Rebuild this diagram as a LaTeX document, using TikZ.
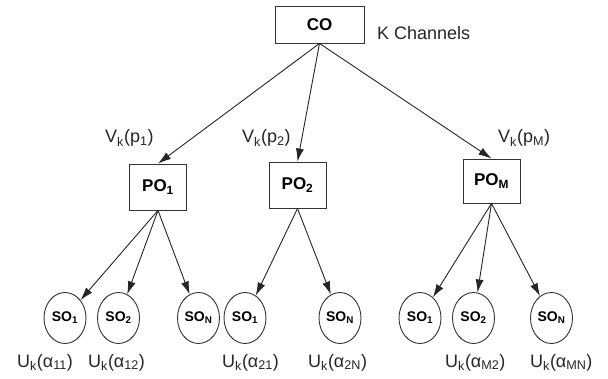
\documentclass[tikz,border=0pt]{standalone}
\usepackage{fontspec}
\setmainfont{Liberation Sans}
\usetikzlibrary{shapes.geometric,arrows.meta}
\begin{document}
\begin{tikzpicture}[x=1pt,y=-1pt,
  boxnode/.style={draw=black!80, line width=0.9pt, inner sep=0pt, font=\fontsize{17}{19}\selectfont\bfseries},
  sonode/.style={draw=black!80, ellipse, line width=0.9pt, minimum width=42pt, minimum height=51pt, inner sep=0pt, font=\fontsize{14}{16}\selectfont\bfseries},
  lbl/.style={font=\fontsize{18}{21}\selectfont, inner sep=0pt, text=black!85, anchor=base west},
  arr/.style={draw=black!85, line width=0.9pt, -{Latex[length=13pt,width=8pt]}}
]
\useasboundingbox (0,0) rectangle (608,379);
\fill[white] (0,0) rectangle (608,379);
\node[boxnode, minimum width=89pt, minimum height=37pt] (CO) at (319.5,24.5) {CO};
\node[lbl] (kc) at (377,40) {K Channels};

\node[boxnode, minimum width=57pt, minimum height=46pt] (PO1) at (158,187) {PO\textsubscript{1}};
\node[boxnode, minimum width=57pt, minimum height=46pt] (PO2) at (297.5,185) {PO\textsubscript{2}};
\node[boxnode, minimum width=57pt, minimum height=44pt] (POM) at (491.5,181) {PO\textsubscript{M}};

\node[lbl] (v1) at (105,143) {V\textsubscript{k}(p\textsubscript{1})};
\node[lbl] (v2) at (242,143) {V\textsubscript{k}(p\textsubscript{2})};
\node[lbl] (vM) at (498,143) {V\textsubscript{k}(p\textsubscript{M})};

\node[sonode] (s11) at (65,318) {SO\textsubscript{1}};
\node[sonode] (s12) at (118.5,318) {SO\textsubscript{2}};
\node[sonode] (s1N) at (198.5,318) {SO\textsubscript{N}};
\node[sonode] (s21) at (245,318) {SO\textsubscript{1}};
\node[sonode] (s2N) at (340,318) {SO\textsubscript{N}};
\node[sonode] (sM1) at (420,318) {SO\textsubscript{1}};
\node[sonode] (sM2) at (473.5,318) {SO\textsubscript{2}};
\node[sonode] (sMN) at (551.5,318) {SO\textsubscript{N}};

\node[lbl] (u11) at (17,367) {U\textsubscript{k}(α\textsubscript{11})};
\node[lbl] (u12) at (88,367) {U\textsubscript{k}(α\textsubscript{12})};
\node[lbl] (u21) at (222,367) {U\textsubscript{k}(α\textsubscript{21})};
\node[lbl] (u2N) at (308,367) {U\textsubscript{k}(α\textsubscript{2N})};
\node[lbl] (uM2) at (445,367) {U\textsubscript{k}(α\textsubscript{M2})};
\node[lbl] (uMN) at (530,367) {U\textsubscript{k}(α\textsubscript{MN})};

\draw[arr] (CO.south) -- (PO1.north);
\draw[arr] (CO.south) -- (PO2.north);
\draw[arr] (CO.south) -- (POM.north);

\draw[arr] (PO1.south) -- (s11);
\draw[arr] (PO1.south) -- (s12);
\draw[arr] (PO1.south) -- (s1N);
\draw[arr] (PO2.south) -- (s21);
\draw[arr] (PO2.south) -- (s2N);
\draw[arr] (POM.south) -- (sM1);
\draw[arr] (POM.south) -- (sM2);
\draw[arr] (POM.south) -- (sMN);
\end{tikzpicture}
\end{document}
